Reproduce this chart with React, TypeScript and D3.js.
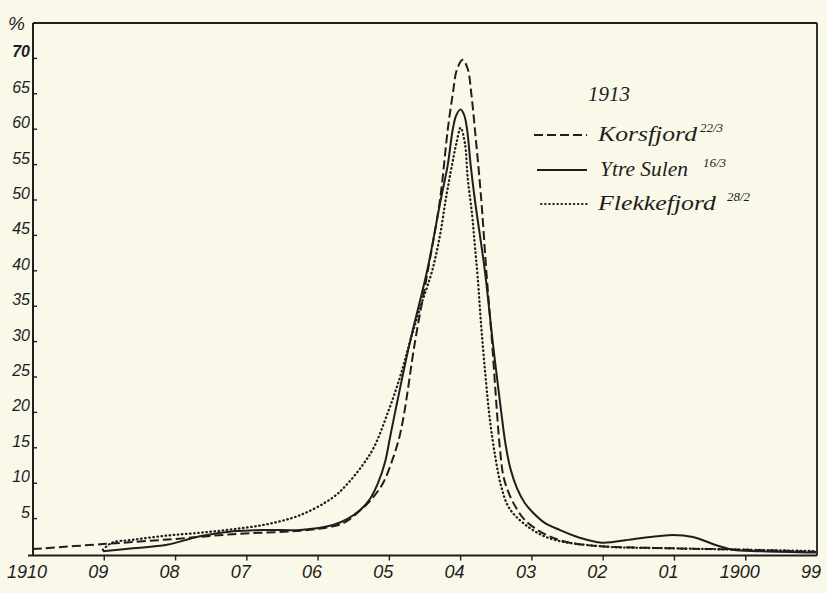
import React from "react";
import * as d3 from "d3";

// Year classes (x axis runs from 1910 back to 1899)
const xTickYears = [1910, 1909, 1908, 1907, 1906, 1905, 1904, 1903, 1902, 1901, 1900, 1899];
const xTickLabels = ["1910", "09", "08", "07", "06", "05", "04", "03", "02", "01", "1900", "99"];
const yTickValues = [5, 10, 15, 20, 25, 30, 35, 40, 45, 50, 55, 60, 65, 70];

// Korsfjord 22/3 (dashed)
const korsYears = [1910.0, 1909.02, 1908.04, 1907.19, 1906.25, 1905.79, 1905.62, 1905.45, 1905.27, 1905.09, 1904.95, 1904.86, 1904.79, 1904.64, 1904.46, 1904.29, 1904.18, 1904.11, 1904.05, 1903.97, 1903.9, 1903.85, 1903.8, 1903.71, 1903.64, 1903.56, 1903.49, 1903.45, 1903.4, 1903.32, 1903.22, 1903.1, 1902.89, 1902.68, 1902.47, 1902.04, 1901.02, 1899.98, 1899.01];
const korsValues = [0.7, 1.4, 2.1, 2.8, 3.3, 3.9, 4.5, 5.8, 7.5, 10, 13.5, 16.5, 20, 30, 40, 50, 60, 65, 68.5, 69.8, 68.5, 65, 60, 50, 40, 30, 20, 15, 11, 8.5, 6.5, 4.8, 3.2, 2.2, 1.6, 1.1, 0.8, 0.6, 0.3];

// Ytre Sulen 16/3 (solid)
const sulenYears = [1909.02, 1908.6, 1908.12, 1907.66, 1907.19, 1906.72, 1906.25, 1905.79, 1905.58, 1905.41, 1905.27, 1905.16, 1905.06, 1904.99, 1904.92, 1904.71, 1904.47, 1904.28, 1904.18, 1904.11, 1904.06, 1904.0, 1903.95, 1903.91, 1903.86, 1903.8, 1903.66, 1903.55, 1903.43, 1903.37, 1903.3, 1903.21, 1903.1, 1902.98, 1902.82, 1902.61, 1902.33, 1902.02, 1901.58, 1901.02, 1900.74, 1900.4, 1900.18, 1899.8, 1899.01];
const sulenValues = [0.4, 0.8, 1.3, 2.5, 3.2, 3.4, 3.4, 4.1, 5.0, 6.2, 7.8, 10, 13, 16.5, 20, 30, 40, 50, 55, 60, 62.0, 62.8, 62.0, 60, 55, 50, 40, 30, 20, 15.5, 12, 9.3, 7.2, 5.8, 4.4, 3.4, 2.3, 1.6, 2.1, 2.7, 2.4, 1.2, 0.6, 0.4, 0.2];

// Flekkefjord 28/2 (dotted)
const flekkYears = [1909.02, 1908.89, 1908.6, 1908.12, 1907.66, 1907.19, 1906.72, 1906.25, 1905.79, 1905.58, 1905.38, 1905.22, 1905.02, 1904.85, 1904.71, 1904.56, 1904.4, 1904.29, 1904.21, 1904.12, 1904.06, 1904.0, 1903.94, 1903.9, 1903.84, 1903.8, 1903.76, 1903.71, 1903.65, 1903.59, 1903.51, 1903.43, 1903.32, 1903.1, 1902.75, 1902.04, 1901.02, 1899.98, 1899.01];
const flekkValues = [0.6, 1.6, 2.0, 2.6, 3.0, 3.5, 4.2, 5.5, 8.0, 10, 12.5, 15, 20, 25, 30, 35, 40, 45, 50, 55, 58, 60.2, 58, 53, 48, 43.5, 39, 32, 25, 19, 13.5, 9.5, 6.5, 4.2, 2.2, 1.1, 0.8, 0.6, 0.4];

const seriesNames = ["Korsfjord", "Ytre Sulen", "Flekkefjord"];
const seriesDates = ["22/3", "16/3", "28/2"];
const legendTitle = "1913";

const W = 827;
const H = 593;
const INK = "#1e1e1c";
const PAPER = "#f9f8e9";

export default function App() {
  const x = d3.scaleLinear().domain([1910, 1899]).range([33, 817]);
  const y = d3.scaleLinear().domain([0, 70]).range([554, 58.4]);

  const line = d3
    .line<[number, number]>()
    .x((d) => x(d[0]))
    .y((d) => y(d[1]))
    .curve(d3.curveCatmullRom.alpha(0.5));

  const kors = korsYears.map((yr, i) => [yr, korsValues[i]] as [number, number]);
  const sulen = sulenYears.map((yr, i) => [yr, sulenValues[i]] as [number, number]);
  const flekk = flekkYears.map((yr, i) => [yr, flekkValues[i]] as [number, number]);

  const x0 = x(1910);
  const x1 = x(1899);
  const yTop = y(75);
  const yBase = y(0) + 1.5;

  const numFont = "'Liberation Sans', 'DejaVu Sans', sans-serif";
  const scriptFont = "'Liberation Serif', 'DejaVu Serif', serif";

  const legendRows = [
    { dash: "9 4", cap: "butt", y: 135, x0: 534, tx: 598, tl: 99, sx: 700 },
    { dash: "none", cap: "butt", y: 170, x0: 537, tx: 600, tl: 88, sx: 703 },
    { dash: "0.5 3.6", cap: "round", y: 204, x0: 541, tx: 598, tl: 118, sx: 727 },
  ];

  return (
    <svg
      width={W}
      height={H}
      viewBox={`0 0 ${W} ${H}`}
      style={{ position: "fixed", left: 0, top: 0, display: "block" }}
    >
      <rect x={0} y={0} width={W} height={H} fill={PAPER} />

      {/* frame */}
      <line x1={x0} y1={yTop} x2={x1} y2={yTop} stroke={INK} strokeWidth={1.8} />
      <line x1={x1} y1={yTop} x2={x1} y2={yBase} stroke={INK} strokeWidth={1.8} />
      <line x1={x0} y1={yTop} x2={x0} y2={yBase} stroke={INK} strokeWidth={2} />
      <line x1={x0 - 5} y1={yBase} x2={x1} y2={yBase} stroke={INK} strokeWidth={2} />

      {/* y ticks and labels */}
      {yTickValues.map((v) => (
        <g key={"y" + v}>
          <line x1={x0} y1={y(v)} x2={x0 + 4} y2={y(v)} stroke={INK} strokeWidth={1.4} />
          <text
            x={x0 - 3}
            y={y(v) - 1}
            textAnchor="end"
            fontFamily={numFont}
            fontStyle="italic"
            fontSize={16}
            fontWeight={v === 70 ? 700 : 400}
            fill={INK}
          >
            {v}
          </text>
        </g>
      ))}
      <text x={8} y={30} fontFamily={numFont} fontStyle="italic" fontSize={19} fill={INK}>
        %
      </text>

      {/* x ticks and labels */}
      {xTickYears.map((yr, i) => (
        <g key={"x" + yr}>
          {i > 0 && i < xTickYears.length - 1 && (
            <line x1={x(yr)} y1={yBase} x2={x(yr)} y2={yBase + 5} stroke={INK} strokeWidth={1.4} />
          )}
          <text
            x={x(yr) - 6}
            y={578}
            textAnchor="middle"
            fontFamily={numFont}
            fontStyle="italic"
            fontSize={18}
            fill={INK}
          >
            {xTickLabels[i]}
          </text>
        </g>
      ))}

      {/* curves */}
      <path d={line(flekk) || ""} fill="none" stroke={INK} strokeWidth={2.3} strokeDasharray="0.5 3.6" strokeLinecap="round" />
      <path d={line(kors) || ""} fill="none" stroke={INK} strokeWidth={2} strokeDasharray="9 4" />
      <path d={line(sulen) || ""} fill="none" stroke={INK} strokeWidth={2} />

      {/* legend */}
      <text x={588} y={101} fontFamily={scriptFont} fontStyle="italic" fontSize={21} fill={INK}>
        {legendTitle}
      </text>
      {legendRows.map((r, i) => (
        <g key={"lg" + i}>
          <line
            x1={r.x0}
            y1={r.y}
            x2={587}
            y2={r.y}
            stroke={INK}
            strokeWidth={i === 2 ? 2 : 1.8}
            strokeDasharray={r.dash}
            strokeLinecap={r.cap as any}
          />
          <text
            x={r.tx}
            y={r.y + 6}
            fontFamily={scriptFont}
            fontStyle="italic"
            fontSize={22}
            fill={INK}
            textLength={r.tl}
            lengthAdjust="spacingAndGlyphs"
          >
            {seriesNames[i]}
          </text>
          <text x={r.sx} y={r.y - 3} fontFamily={scriptFont} fontStyle="italic" fontSize={13} fill={INK}>
            {seriesDates[i]}
          </text>
        </g>
      ))}
    </svg>
  );
}
